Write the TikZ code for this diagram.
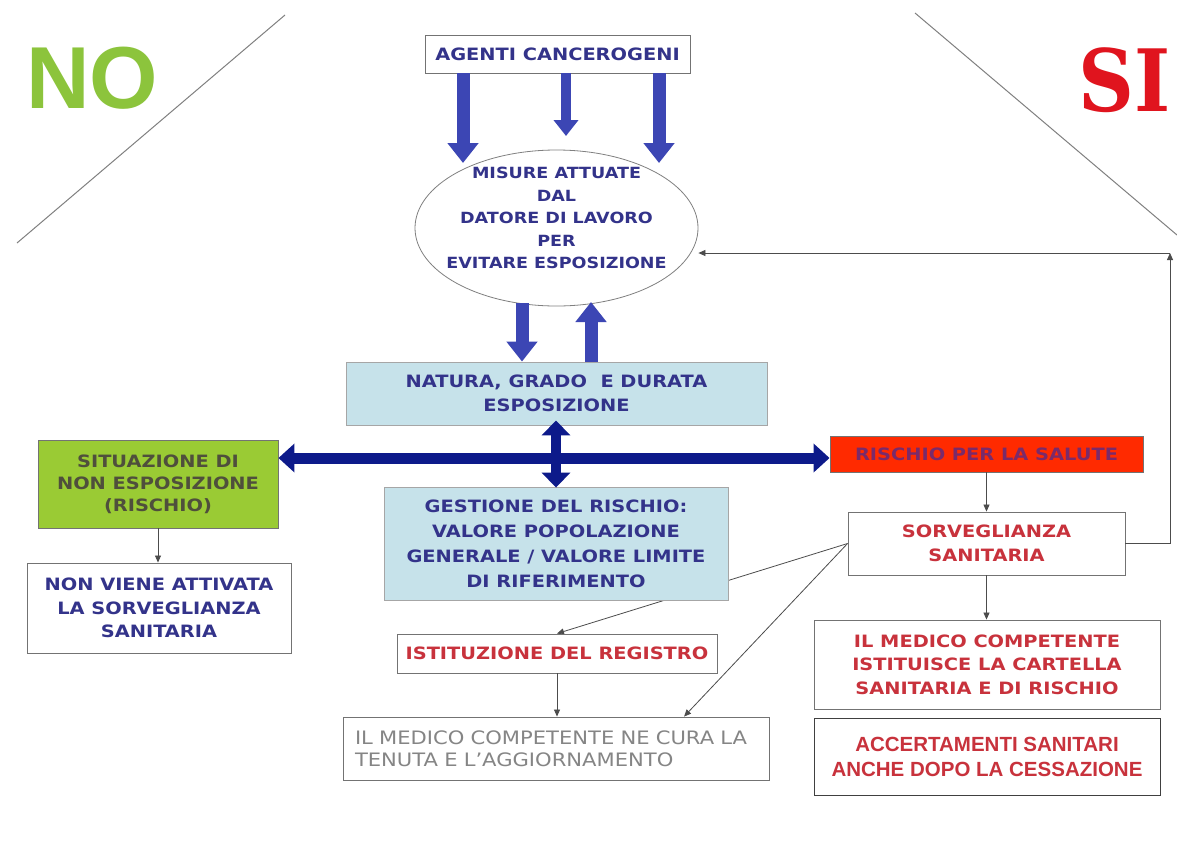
\documentclass[tikz,border=0pt]{standalone}
\usepackage{fontspec}
\setmainfont{DejaVu Sans}[FakeStretch=1.14]
\newfontfamily\arialf{Liberation Sans}
\newfontfamily\slabf{DejaVu Serif Condensed}
\usetikzlibrary{shapes.geometric,arrows.meta,calc,backgrounds}
\definecolor{navytxt}{HTML}{33338A}
\definecolor{lblue}{HTML}{C6E2EA}
\definecolor{blkblue}{HTML}{3C46B4}
\definecolor{darkblue}{HTML}{0D1A8A}
\definecolor{limeg}{HTML}{9ACB34}
\definecolor{olivetxt}{HTML}{4F4F3C}
\definecolor{redfill}{HTML}{FF2A00}
\definecolor{purptxt}{HTML}{7A2A6A}
\definecolor{redtxt}{HTML}{C8323C}
\definecolor{greytxt}{HTML}{858585}
\definecolor{nogreen}{HTML}{8CC43C}
\definecolor{sired}{HTML}{E0141E}
\newcommand\bxfont{\fontsize{17}{23.5}\selectfont\bfseries}
\tikzset{
  bbox/.style={draw=black!55, line width=0.9pt, inner sep=0pt, align=center, font=\bxfont},
  thinarrow/.style={draw=black!70, line width=0.8pt, -{Triangle[width=6pt,length=7pt]}},
  blockarrow/.style={draw=blkblue, line width=13pt, -{Triangle[width=30pt,length=20pt]}},
  smallblock/.style={draw=blkblue, line width=10pt, -{Triangle[width=24pt,length=16pt]}},
  dblarrow/.style={draw=darkblue, line width=11pt, {Triangle[width=28pt,length=16pt]}-{Triangle[width=28pt,length=16pt]}},
  vdblarrow/.style={draw=darkblue, line width=10pt, {Triangle[width=28pt,length=15pt]}-{Triangle[width=28pt,length=15pt]}},
  diag/.style={draw=black!50, line width=1pt}
}
\begin{document}
\begin{tikzpicture}[x=1pt,y=-1pt]
\useasboundingbox (0,0) rectangle (1177,844);

% corner labels and diagonals
\node[font=\arialf\bfseries\fontsize{88}{88}\selectfont, text=nogreen, inner sep=0pt] (no) at (92,78) {NO};
\node[font=\slabf\bfseries\fontsize{86}{86}\selectfont, text=sired, inner sep=0pt] (si) at (1125,80) {SI};
\coordinate (dl1) at (285,15);
\coordinate (dl2) at (17,243);
\coordinate (dr1) at (915,13);
\coordinate (dr2) at (1177,235);
\draw[diag] (dl1) -- (dl2);
\draw[diag] (dr1) -- (dr2);

% nodes
\node[bbox, text=navytxt, minimum width=265pt, minimum height=38pt] (ag) at (557.5,54) {AGENTI CANCEROGENI};
\node[ellipse, draw=black!50, line width=0.8pt, fill=white, inner sep=0pt, minimum width=283pt, minimum height=156pt] (el) at (556.5,228) {};
\node[inner sep=0pt, align=center, text=navytxt, font=\fontsize{15.4}{22.5}\selectfont\bfseries] (eltext) at ([yshift=10pt]el.center)
  {MISURE ATTUATE\\DAL\\DATORE DI LAVORO\\PER\\EVITARE ESPOSIZIONE};
\node[bbox, draw=black!35, fill=lblue, text=navytxt, minimum width=421pt, minimum height=63pt] (nat) at (556.5,393.5) {NATURA, GRADO\ \ E DURATA\\ESPOSIZIONE};
\node[bbox, fill=limeg, text=olivetxt, minimum width=240pt, minimum height=88pt, font=\fontsize{17}{22}\selectfont\bfseries] (sit) at (158,484) {SITUAZIONE DI\\NON ESPOSIZIONE\\(RISCHIO)};
\node[bbox, text=navytxt, minimum width=264pt, minimum height=90pt] (nonv) at (159,608) {NON VIENE ATTIVATA\\LA SORVEGLIANZA\\SANITARIA};
\node[bbox, draw=black!35, fill=lblue, text=navytxt, minimum width=344pt, minimum height=113pt, font=\fontsize{17}{25}\selectfont\bfseries] (ges) at (556,543.5) {GESTIONE DEL RISCHIO:\\VALORE POPOLAZIONE\\GENERALE / VALORE LIMITE\\DI RIFERIMENTO};
\node[bbox, fill=redfill, text=purptxt, minimum width=313pt, minimum height=36pt] (ris) at (986.5,454) {RISCHIO PER LA SALUTE};
\node[bbox, text=redtxt, minimum width=277pt, minimum height=63pt] (sorv) at (986.5,543.5) {SORVEGLIANZA\\SANITARIA};
\node[bbox, text=redtxt, minimum width=346pt, minimum height=89pt] (med) at (987,664.5) {IL MEDICO COMPETENTE\\ISTITUISCE LA CARTELLA\\SANITARIA E DI RISCHIO};
\node[bbox, draw=black!75, text=redtxt, minimum width=346pt, minimum height=77pt, font=\arialf\bfseries\fontsize{20.5}{25}\selectfont] (acc) at (987,756.5) {ACCERTAMENTI SANITARI\\ANCHE DOPO LA CESSAZIONE};
\node[bbox, text=redtxt, minimum width=320pt, minimum height=39pt] (ist) at (557,653.5) {ISTITUZIONE DEL REGISTRO};
\node[bbox, text=greytxt, inner xsep=12pt, text width=402pt, minimum height=63pt, align=left, font=\fontsize{18.5}{22}\selectfont] (cura) at (556,748.5) {IL MEDICO COMPETENTE NE CURA LA\\TENUTA E L’AGGIORNAMENTO};

% helper coordinates
\coordinate (a1) at (463,163);
\coordinate (a2) at (566,136);
\coordinate (a3) at (659,163);
\coordinate (dn) at (522,303);
\coordinate (up) at (591,302);
\coordinate (vx) at (556,0);
\coordinate (hy) at (0,458);
\coordinate (fb) at (1170,253);
\coordinate (curain) at ($(cura.north west)!0.8!(cura.north east)$);

% connectors behind boxes
\begin{pgfonlayer}{background}
\fill[white] (0,0) rectangle (1177,844);
\draw[thinarrow] (sorv.west) -- (ist.north);
\end{pgfonlayer}

% block arrows
\draw[blockarrow] (ag.south -| a1) -- (a1);
\draw[smallblock] (ag.south -| a2) -- (a2);
\draw[blockarrow] (ag.south -| a3) -- (a3);
\draw[blockarrow] (dn) -- (nat.north -| dn);
\draw[blockarrow] (nat.north -| up) -- (up);
\draw[dblarrow] (sit.east |- hy) -- (ris.west |- hy);
\draw[vdblarrow] ([yshift=5pt]nat.south -| vx) -- ([yshift=-1pt]ges.north -| vx);

% thin connectors
\draw[thinarrow] (sit.south) -- (sit.south |- nonv.north);
\draw[thinarrow] (ris.south) -- (ris.south |- sorv.north);
\draw[thinarrow] (sorv.south) -- (sorv.south |- med.north);
\draw[thinarrow] (ist.south) -- (ist.south |- cura.north);
\draw[thinarrow] (sorv.west) -- (curain);
\draw[thinarrow] (sorv.east) -| (fb);
\draw[thinarrow] (fb) -- (el.east |- fb);
\end{tikzpicture}
\end{document}
